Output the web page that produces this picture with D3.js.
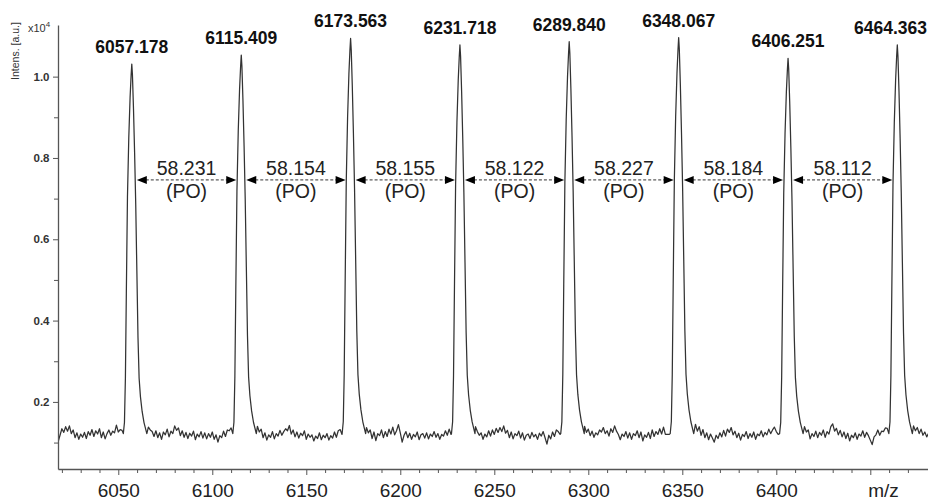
<!DOCTYPE html>
<html>
<head>
<meta charset="utf-8">
<script src="https://cdn.jsdelivr.net/npm/d3@7"></script>
<style>
  body { margin: 0; background: #fff; }
  svg { display: block; font-family: "Liberation Sans", Arial, sans-serif; }
</style>
</head>
<body>
<div id="chart"></div>
<script>
// peaks (m/z and intensity in x10^4)
var peakMz = [6057.178, 6115.409, 6173.563, 6231.718, 6289.840, 6348.067, 6406.251, 6464.363];
var peakLabels = ["6057.178", "6115.409", "6173.563", "6231.718", "6289.840", "6348.067", "6406.251", "6464.363"];
var peakHeight = [1.031, 1.053, 1.094, 1.078, 1.086, 1.096, 1.045, 1.078];

// spacing between neighbouring peaks
var gapLabels = ["58.231", "58.154", "58.155", "58.122", "58.227", "58.184", "58.112"];
var gapUnit = "(PO)";

// peak profile: m/z offset from apex, fraction of height above baseline
var shapeOffset = [-4.5, -3.9, -3.4, -2.9, -2.3, -1.6, -0.9, -0.35, 0, 0.35, 0.9, 1.5, 2.1, 2.7, 3.3, 3.9, 4.6, 5.5, 6.5, 8];
var shapeFrac   = [0, 0.03, 0.15, 0.38, 0.64, 0.80, 0.91, 0.97, 1, 0.97, 0.88, 0.76, 0.62, 0.44, 0.26, 0.15, 0.10, 0.06, 0.03, 0];
var peakBase = 0.122;

// baseline noise, one value per m/z unit starting at 6018
var noiseStart = 6018;
var noise = [
  0.102, 0.118, 0.134, 0.125, 0.139, 0.128, 0.141, 0.122, 0.131, 0.112, // 6018
  0.124, 0.108, 0.121, 0.113, 0.125, 0.110, 0.127, 0.118, 0.132, 0.115, // 6028
  0.129, 0.121, 0.134, 0.112, 0.126, 0.109, 0.122, 0.131, 0.118, 0.128, // 6038
  0.124, 0.143, 0.126, 0.132, 0.130, 0.138, 0.120, 0.120, 0.120, 0.120, // 6048
  0.120, 0.120, 0.120, 0.120, 0.120, 0.120, 0.120, 0.120, 0.138, 0.131, // 6058
  0.127, 0.115, 0.129, 0.112, 0.124, 0.108, 0.126, 0.119, 0.133, 0.114, // 6068
  0.128, 0.122, 0.141, 0.130, 0.136, 0.117, 0.129, 0.113, 0.125, 0.110, // 6078
  0.123, 0.116, 0.128, 0.107, 0.121, 0.114, 0.127, 0.111, 0.124, 0.109, // 6088
  0.122, 0.113, 0.126, 0.108, 0.119, 0.101, 0.117, 0.112, 0.128, 0.115, // 6098
  0.131, 0.129, 0.136, 0.120, 0.120, 0.120, 0.120, 0.120, 0.120, 0.120, // 6108
  0.120, 0.120, 0.120, 0.120, 0.120, 0.120, 0.140, 0.126, 0.133, 0.112, // 6118
  0.124, 0.106, 0.119, 0.113, 0.127, 0.109, 0.122, 0.116, 0.130, 0.118, // 6128
  0.127, 0.134, 0.129, 0.142, 0.121, 0.131, 0.114, 0.126, 0.111, 0.123, // 6138
  0.117, 0.129, 0.108, 0.121, 0.113, 0.119, 0.104, 0.116, 0.110, 0.124, // 6148
  0.107, 0.118, 0.112, 0.122, 0.106, 0.117, 0.111, 0.126, 0.113, 0.129, // 6158
  0.132, 0.120, 0.120, 0.120, 0.120, 0.120, 0.120, 0.120, 0.120, 0.120, // 6168
  0.120, 0.120, 0.120, 0.120, 0.137, 0.124, 0.131, 0.110, 0.126, 0.105, // 6178
  0.122, 0.117, 0.131, 0.112, 0.127, 0.115, 0.133, 0.121, 0.138, 0.119, // 6188
  0.129, 0.144, 0.124, 0.101, 0.118, 0.127, 0.112, 0.123, 0.108, 0.120, // 6198
  0.114, 0.126, 0.107, 0.119, 0.122, 0.111, 0.124, 0.109, 0.121, 0.115, // 6208
  0.127, 0.113, 0.122, 0.108, 0.120, 0.116, 0.129, 0.118, 0.133, 0.120, // 6218
  0.120, 0.120, 0.120, 0.120, 0.120, 0.120, 0.120, 0.120, 0.120, 0.120, // 6228
  0.120, 0.120, 0.139, 0.127, 0.118, 0.124, 0.108, 0.121, 0.114, 0.129, // 6238
  0.116, 0.131, 0.120, 0.135, 0.125, 0.137, 0.127, 0.141, 0.123, 0.130, // 6248
  0.112, 0.126, 0.109, 0.122, 0.117, 0.128, 0.111, 0.124, 0.106, 0.118, // 6258
  0.121, 0.110, 0.125, 0.114, 0.120, 0.108, 0.123, 0.116, 0.127, 0.112, // 6268
  0.096, 0.118, 0.109, 0.126, 0.115, 0.131, 0.127, 0.120, 0.120, 0.120, // 6278
  0.120, 0.120, 0.120, 0.120, 0.120, 0.120, 0.120, 0.120, 0.120, 0.120, // 6288
  0.140, 0.125, 0.133, 0.117, 0.128, 0.113, 0.124, 0.119, 0.131, 0.126, // 6298
  0.137, 0.122, 0.129, 0.116, 0.134, 0.125, 0.141, 0.128, 0.120, 0.107, // 6308
  0.121, 0.115, 0.127, 0.111, 0.124, 0.108, 0.122, 0.117, 0.129, 0.112, // 6318
  0.126, 0.104, 0.119, 0.113, 0.125, 0.110, 0.131, 0.115, 0.127, 0.120, // 6328
  0.134, 0.121, 0.138, 0.120, 0.120, 0.120, 0.120, 0.120, 0.120, 0.120, // 6338
  0.120, 0.120, 0.120, 0.120, 0.120, 0.120, 0.120, 0.120, 0.120, 0.145, // 6348
  0.128, 0.139, 0.118, 0.132, 0.112, 0.124, 0.107, 0.121, 0.111, 0.101, // 6358
  0.118, 0.110, 0.124, 0.114, 0.130, 0.116, 0.133, 0.125, 0.137, 0.119, // 6368
  0.128, 0.112, 0.123, 0.106, 0.120, 0.115, 0.127, 0.110, 0.122, 0.113, // 6378
  0.126, 0.108, 0.121, 0.117, 0.129, 0.114, 0.125, 0.119, 0.133, 0.122, // 6388
  0.131, 0.138, 0.127, 0.120, 0.120, 0.120, 0.120, 0.120, 0.120, 0.120, // 6398
  0.120, 0.120, 0.120, 0.120, 0.120, 0.120, 0.120, 0.139, 0.126, 0.131, // 6408
  0.109, 0.122, 0.115, 0.128, 0.112, 0.125, 0.118, 0.131, 0.113, 0.127, // 6418
  0.121, 0.139, 0.146, 0.128, 0.135, 0.119, 0.130, 0.114, 0.126, 0.110, // 6428
  0.123, 0.104, 0.118, 0.112, 0.124, 0.108, 0.121, 0.116, 0.129, 0.113, // 6438
  0.125, 0.117, 0.106, 0.095, 0.114, 0.119, 0.131, 0.118, 0.128, 0.127, // 6448
  0.136, 0.135, 0.120, 0.120, 0.120, 0.120, 0.120, 0.120, 0.120, 0.120, // 6458
  0.120, 0.120, 0.120, 0.120, 0.120, 0.141, 0.129, 0.137, 0.122, 0.133, // 6468
  0.118, 0.126, 0.114, 0.123                                             // 6478
];

// axis ticks
var xTickLabels = [6050, 6100, 6150, 6200, 6250, 6300, 6350, 6400];
var yTickLabels = [0.2, 0.4, 0.6, 0.8, 1.0];

var w = 928;
var h = 502;

var svg = d3.select("#chart")
            .append("svg")
            .attr("width", w)
            .attr("height", h);

var x = d3.scaleLinear().domain([6017.93, 6480.69]).range([58, 928]);
var y = d3.scaleLinear().domain([0.035, 1.127]).range([469, 25]);

// build the trace: noise outside peak windows + peak profiles
var trace = [];
noise.forEach(function(v, i) {
  var mz = noiseStart + i;
  var inPeak = peakMz.some(function(p) {
    return mz >= p + shapeOffset[0] && mz <= p + shapeOffset[shapeOffset.length - 1];
  });
  if (!inPeak) trace.push([mz, v]);
});
peakMz.forEach(function(p, k) {
  shapeOffset.forEach(function(o, j) {
    trace.push([p + o, peakBase + shapeFrac[j] * (peakHeight[k] - peakBase)]);
  });
});
trace.sort(function(a, b) { return a[0] - b[0]; });

svg.append("clipPath")
   .attr("id", "plot")
   .append("rect")
   .attr("x", 58).attr("y", 0)
   .attr("width", 870).attr("height", 469);

svg.append("path")
   .datum(trace)
   .attr("clip-path", "url(#plot)")
   .attr("fill", "none")
   .attr("stroke", "#333")
   .attr("stroke-width", 1.25)
   .attr("stroke-linejoin", "round")
   .attr("d", d3.line()
     .x(function(d) { return x(d[0]); })
     .y(function(d) { return y(d[1]); }));

// x axis
var xTicks = d3.range(6020, 6480, 10);
var gx = svg.append("g")
   .attr("transform", "translate(0,469)")
   .call(d3.axisBottom(x)
     .tickValues(xTicks)
     .tickSize(4)
     .tickSizeOuter(0)
     .tickFormat(function(d) { return xTickLabels.indexOf(d) >= 0 ? d : ""; }));
gx.select(".domain").attr("stroke", "#555").attr("stroke-width", 1.3);
gx.selectAll(".tick line")
  .attr("stroke", "#555")
  .attr("y2", function(d) { return d % 50 === 0 ? 6 : 4; });
gx.selectAll(".tick text")
  .attr("y", 28).attr("dy", 0)
  .attr("font-size", "19px")
  .attr("font-family", "Liberation Sans, Arial, sans-serif")
  .attr("fill", "#222");

svg.append("text")
   .attr("x", x(6457))
   .attr("y", 497)
   .attr("text-anchor", "middle")
   .attr("font-size", "19px")
   .attr("fill", "#222")
   .text("m/z");

// y axis
var yTicks = [1, 2, 3, 4, 5, 6, 7, 8, 9, 10].map(function(i) { return i / 10; });
var isLabelled = function(d) {
  return yTickLabels.some(function(t) { return Math.abs(t - d) < 1e-9; });
};
var gy = svg.append("g")
   .attr("transform", "translate(58,0)")
   .call(d3.axisLeft(y)
     .tickValues(yTicks)
     .tickSize(5)
     .tickSizeOuter(0)
     .tickFormat(function(d) { return isLabelled(d) ? d3.format(".1f")(d) : ""; }));
gy.select(".domain").attr("stroke", "#555").attr("stroke-width", 1.3);
gy.selectAll(".tick line")
  .attr("stroke", "#555")
  .attr("x2", function(d) { return isLabelled(d) ? -5 : -4; });
gy.selectAll(".tick text")
  .attr("x", -8.5)
  .attr("font-size", "11.5px")
  .attr("font-weight", "bold")
  .attr("font-family", "Liberation Sans, Arial, sans-serif")
  .attr("fill", "#333");

var mult = svg.append("text")
   .attr("x", 28).attr("y", 31.5)
   .attr("font-size", "11px")
   .attr("fill", "#333");
mult.append("tspan").text("x10");
mult.append("tspan").attr("dy", -5).attr("font-size", "8px").text("4");

svg.append("text")
   .attr("transform", "translate(19,51) rotate(-90)")
   .attr("text-anchor", "middle")
   .attr("font-size", "10.5px")
   .attr("fill", "#333")
   .text("Intens. [a.u.]");

// peak labels
svg.selectAll("text.peak")
   .data(peakMz)
   .enter()
   .append("text")
   .attr("class", "peak")
   .attr("x", function(d) { return x(d); })
   .attr("y", function(d, i) { return y(peakHeight[i]) - 11; })
   .attr("text-anchor", "middle")
   .attr("font-size", "17.5px")
   .attr("font-weight", "bold")
   .attr("fill", "#111")
   .text(function(d, i) { return peakLabels[i]; })
   .each(function() {
     var box = this.getBBox();
     if (box.x + box.width > 927) {
       d3.select(this).attr("text-anchor", "end").attr("x", 927);
     }
   });

// spacing arrows
var arrowY = y(0.746);
var gaps = svg.selectAll("g.gap")
   .data(gapLabels)
   .enter()
   .append("g")
   .attr("class", "gap");

gaps.each(function(label, i) {
  var g = d3.select(this);
  var x1 = x(peakMz[i]) + 5;
  var x2 = x(peakMz[i + 1]) - 5;
  g.append("line")
   .attr("x1", x1 + 9).attr("x2", x2 - 9)
   .attr("y1", arrowY).attr("y2", arrowY)
   .attr("stroke", "#333")
   .attr("stroke-width", 1)
   .attr("stroke-dasharray", "3,2");
  g.append("path")
   .attr("d", "M" + x1 + "," + arrowY + "L" + (x1 + 10) + "," + (arrowY - 4) + "L" + (x1 + 10) + "," + (arrowY + 4) + "Z")
   .attr("fill", "#000");
  g.append("path")
   .attr("d", "M" + x2 + "," + arrowY + "L" + (x2 - 10) + "," + (arrowY - 4) + "L" + (x2 - 10) + "," + (arrowY + 4) + "Z")
   .attr("fill", "#000");
  g.append("text")
   .attr("x", (x1 + x2) / 2)
   .attr("y", arrowY - 5)
   .attr("text-anchor", "middle")
   .attr("font-size", "19.5px")
   .attr("fill", "#222")
   .text(label);
  g.append("text")
   .attr("x", (x1 + x2) / 2)
   .attr("y", arrowY + 18)
   .attr("text-anchor", "middle")
   .attr("font-size", "19.5px")
   .attr("fill", "#222")
   .text(gapUnit);
});
</script>
</body>
</html>
